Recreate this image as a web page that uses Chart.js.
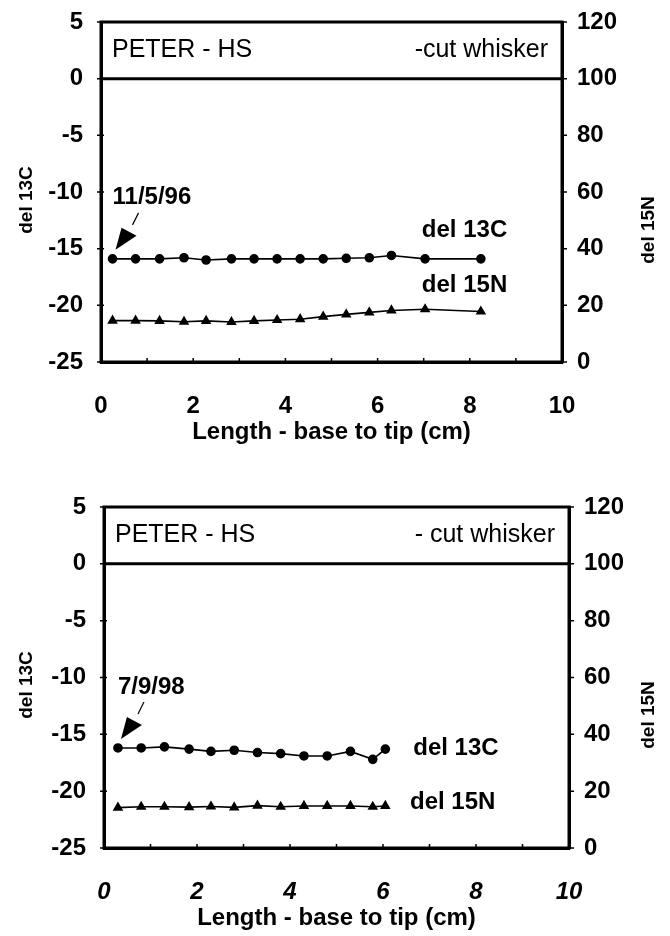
<!DOCTYPE html>
<html>
<head>
<meta charset="utf-8">
<title>PETER - HS whisker isotopes</title>
<script src="https://cdn.jsdelivr.net/npm/chart.js@4.4.0/dist/chart.umd.min.js"></script>
<style>
    html, body { margin: 0; padding: 0; background: #ffffff; }
    .panel { position: absolute; left: 0; width: 670px; height: 468px; }
    #panelTop { top: 0; }
    #panelBottom { top: 468px; }
</style>
</head>
<body>
<div class="panel" id="panelTop"><canvas id="chartTop" width="670" height="468"></canvas></div>
<div class="panel" id="panelBottom"><canvas id="chartBottom" width="670" height="468"></canvas></div>
<script>
// axis ticks (shared by both panels)
const lengthTicks = [0, 2, 4, 6, 8, 10];
const del13CTicks = [-25, -20, -15, -10, -5, 0, 5];
const del15NTicks = [0, 20, 40, 60, 80, 100, 120];

// top panel - cut 11/5/96
const lengthTop = [0.25, 0.75, 1.27, 1.8, 2.28, 2.83, 3.32, 3.82, 4.32, 4.82, 5.32, 5.82, 6.3, 7.03, 8.24];
const del13CTop = [-15.9, -15.9, -15.9, -15.8, -16.0, -15.9, -15.9, -15.9, -15.9, -15.9, -15.85, -15.8, -15.6, -15.9, -15.9];
const del15NTop = [14.6, 14.6, 14.5, 14.2, 14.5, 14.1, 14.5, 14.8, 15.1, 16.0, 16.8, 17.5, 18.2, 18.6, 17.8];

// bottom panel - cut 7/9/98
const lengthBottom = [0.3, 0.8, 1.3, 1.83, 2.3, 2.8, 3.3, 3.8, 4.3, 4.8, 5.3, 5.78, 6.05];
const del13CBottom = [-16.2, -16.2, -16.1, -16.3, -16.5, -16.4, -16.6, -16.7, -16.9, -16.9, -16.5, -17.2, -16.3];
const del15NBottom = [14.2, 14.5, 14.5, 14.4, 14.6, 14.3, 14.9, 14.5, 14.8, 14.8, 14.8, 14.5, 14.8];

const FONT = '"Liberation Sans", Arial, sans-serif';
Chart.defaults.font.family = FONT;
Chart.defaults.color = '#000000';

function toPoints(xs, ys) {
    return xs.map((x, i) => ({ x: x, y: ys[i] }));
}

function rotatedText(ctx, text, x, y) {
    ctx.save();
    ctx.translate(x, y);
    ctx.rotate(-Math.PI / 2);
    ctx.textAlign = 'center';
    ctx.textBaseline = 'middle';
    ctx.fillText(text, 0, 0);
    ctx.restore();
}

// frame, header band, tick marks, annotations and the vertical axis titles
const whiskerFrame = {
    id: 'whiskerFrame',
    afterDraw(chart, args, opts) {
        const { ctx, chartArea: area, scales } = chart;
        const headY = scales.y.getPixelForValue(0);
        ctx.save();
        ctx.strokeStyle = '#000';
        ctx.fillStyle = '#000';
        ctx.lineWidth = 3;
        ctx.strokeRect(area.left, area.top, area.right - area.left, area.bottom - area.top);
        ctx.beginPath();
        ctx.moveTo(area.left, headY);
        ctx.lineTo(area.right, headY);
        ctx.stroke();

        // small tick marks (labels are placed by the scales)
        ctx.lineWidth = 1.5;
        ctx.beginPath();
        scales.y.ticks.forEach(t => {
            const py = scales.y.getPixelForValue(t.value);
            ctx.moveTo(area.left - 4, py);
            ctx.lineTo(area.left + 3, py);
        });
        scales.y2.ticks.forEach(t => {
            const py = scales.y2.getPixelForValue(t.value);
            ctx.moveTo(area.right, py);
            ctx.lineTo(area.right + 5, py);
        });
        for (let v = scales.x.min; v <= scales.x.max; v += 1) {
            const px = scales.x.getPixelForValue(v);
            ctx.moveTo(px, area.bottom);
            ctx.lineTo(px, area.bottom - 4);
        }
        ctx.stroke();

        // header text
        const midY = (area.top + headY) / 2;
        ctx.font = '25px ' + FONT;
        ctx.textBaseline = 'middle';
        ctx.textAlign = 'left';
        ctx.fillText(opts.name, area.left + 11, midY);
        ctx.textAlign = 'right';
        ctx.fillText(opts.note, area.right - 14, midY);

        // date label with arrow pointing at the first del 13C point
        const first = chart.getDatasetMeta(0).data[0];
        ctx.font = 'bold 24px ' + FONT;
        ctx.textAlign = 'left';
        ctx.fillText(opts.date, first.x, first.y - 61);
        ctx.lineWidth = 1.2;
        ctx.beginPath();
        ctx.moveTo(first.x + 26, first.y - 46);
        ctx.lineTo(first.x + 20, first.y - 34);
        ctx.stroke();
        ctx.beginPath();
        ctx.moveTo(first.x + 3, first.y - 9);
        ctx.lineTo(first.x + 9, first.y - 31);
        ctx.lineTo(first.x + 24, first.y - 23);
        ctx.closePath();
        ctx.fill();

        // series labels
        opts.seriesLabels.forEach(l => {
            ctx.fillText(l.text, scales.x.getPixelForValue(l.x), scales.y.getPixelForValue(l.y));
        });

        // axis titles, both reading bottom to top
        ctx.font = 'bold 19px ' + FONT;
        rotatedText(ctx, 'del 13C', 27, area.top + opts.leftTitleDy);
        rotatedText(ctx, 'del 15N', 649, area.top + opts.rightTitleDy);
        ctx.restore();
    }
};

function buildChart(canvasId, panel) {
    const ctx = document.getElementById(canvasId).getContext('2d');
    const tickFont = { size: 24, weight: 'bold' };
    const border = { color: '#000', width: 3 };
    // tick marks are drawn by the plugin; the scale tick length only sets the label gap
    const gridWithGap = gap => ({ drawOnChartArea: false, tickLength: gap, tickColor: 'rgba(0,0,0,0)' });

    return new Chart(ctx, {
        type: 'scatter',
        data: {
            datasets: [{
                label: 'del 13C',
                data: toPoints(panel.length, panel.del13C),
                yAxisID: 'y',
                showLine: true,
                borderColor: '#000',
                borderWidth: 1.6,
                pointStyle: 'circle',
                pointRadius: 4,
                pointBackgroundColor: '#000',
                pointBorderColor: '#000'
            }, {
                label: 'del 15N',
                data: toPoints(panel.length, panel.del15N),
                yAxisID: 'y2',
                showLine: true,
                borderColor: '#000',
                borderWidth: 1.6,
                pointStyle: 'triangle',
                pointRadius: 4.5,
                pointBackgroundColor: '#000',
                pointBorderColor: '#000'
            }]
        },
        options: {
            responsive: false,
            animation: false,
            events: [],
            layout: { padding: { top: panel.areaTop, left: 0, right: 0, bottom: 0 } },
            plugins: {
                legend: { display: false },
                tooltip: { enabled: false },
                whiskerFrame: {
                    name: 'PETER - HS',
                    note: panel.note,
                    date: panel.date,
                    seriesLabels: panel.seriesLabels,
                    leftTitleDy: 178,
                    rightTitleDy: 208
                }
            },
            scales: {
                x: {
                    type: 'linear',
                    min: lengthTicks[0],
                    max: lengthTicks[lengthTicks.length - 1],
                    afterBuildTicks: axis => { axis.ticks = lengthTicks.map(v => ({ value: v })); },
                    afterFit: axis => { axis.height = panel.xAxisHeight; },
                    ticks: { font: { size: 24, weight: 'bold', style: panel.xTickStyle }, padding: 2, maxRotation: 0 },
                    grid: gridWithGap(28),
                    border: border,
                    title: {
                        display: true,
                        text: 'Length - base to tip (cm)',
                        font: { size: 24, weight: 'bold' },
                        padding: { top: 0, bottom: panel.xTitlePad }
                    }
                },
                y: {
                    position: 'left',
                    min: del13CTicks[0],
                    max: del13CTicks[del13CTicks.length - 1],
                    afterBuildTicks: axis => { axis.ticks = del13CTicks.map(v => ({ value: v })); },
                    afterFit: axis => { axis.width = panel.leftWidth; },
                    ticks: { font: tickFont, padding: 2 },
                    grid: gridWithGap(16),
                    border: border
                },
                y2: {
                    position: 'right',
                    min: del15NTicks[0],
                    max: del15NTicks[del15NTicks.length - 1],
                    afterBuildTicks: axis => { axis.ticks = del15NTicks.map(v => ({ value: v })); },
                    afterFit: axis => { axis.width = panel.rightWidth; },
                    ticks: { font: tickFont, padding: 2 },
                    grid: gridWithGap(13),
                    border: border
                }
            }
        },
        plugins: [whiskerFrame]
    });
}

buildChart('chartTop', {
    length: lengthTop,
    del13C: del13CTop,
    del15N: del15NTop,
    note: '-cut whisker',
    date: '11/5/96',
    seriesLabels: [
        { text: 'del 13C', x: 6.96, y: -13.4 },
        { text: 'del 15N', x: 6.96, y: -18.2 }
    ],
    areaTop: 22,
    leftWidth: 101,
    rightWidth: 108,
    xAxisHeight: 106,
    xTickStyle: 'normal',
    xTitlePad: 21
});

buildChart('chartBottom', {
    length: lengthBottom,
    del13C: del13CBottom,
    del15N: del15NBottom,
    note: '- cut whisker',
    date: '7/9/98',
    seriesLabels: [
        { text: 'del 13C', x: 6.65, y: -16.2 },
        { text: 'del 15N', x: 6.58, y: -20.95 }
    ],
    areaTop: 39,
    leftWidth: 104,
    rightWidth: 101,
    xAxisHeight: 88,
    xTickStyle: 'italic',
    xTitlePad: 3
});
</script>
</body>
</html>
